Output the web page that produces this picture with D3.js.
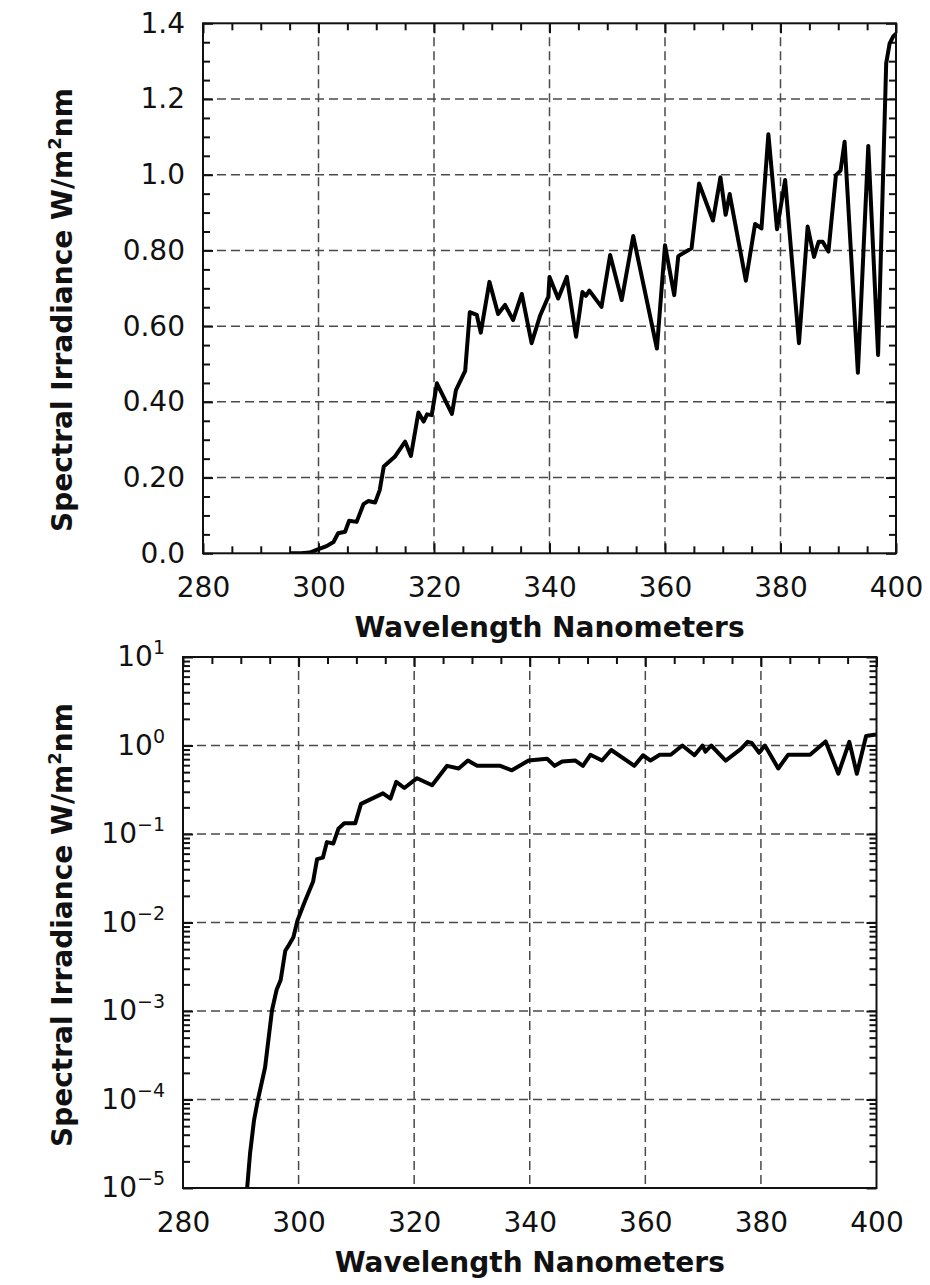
<!DOCTYPE html>
<html>
<head>
<meta charset="utf-8">
<script src="https://cdn.jsdelivr.net/npm/d3@7"></script>
<style>
body { margin: 0; background: #fff; }
svg { display: block; }
text { font-family: "DejaVu Sans", Verdana, sans-serif; fill: #111; }
</style>
</head>
<body>
<svg width="930" height="1285"></svg>
<script>
/* data */
var linWavelength = [295.0, 297.0, 298.5, 300.0, 301.4, 302.6, 303.4, 304.6, 305.3, 306.6, 307.8, 308.6, 309.8, 310.6, 311.3,
    313.2, 315.0, 316.0, 317.3, 318.2, 318.8, 319.6, 320.5, 323.1, 323.8, 325.4, 326.2, 327.4, 328.1, 329.6,
    331.1, 332.3, 333.7, 335.2, 336.9, 338.4, 339.8, 340.0, 341.5, 343.0, 344.6, 345.7, 346.3, 346.9, 349.0,
    350.5, 352.5, 354.5, 358.6, 360.0, 361.6, 362.3, 364.6, 365.9, 368.3, 369.6, 370.5, 371.2, 374.0, 375.6,
    376.7, 377.9, 379.4, 380.8, 383.2, 384.7, 385.8, 386.6, 387.3, 388.3, 389.6, 390.4, 391.1, 393.4, 395.2,
    396.9, 398.3, 398.9, 399.5, 400.0]
var linIrradiance = [0.000, 0.000, 0.002, 0.011, 0.019, 0.030, 0.053, 0.057, 0.086, 0.083, 0.130, 0.138, 0.134, 0.167, 0.229,
    0.255, 0.295, 0.257, 0.372, 0.348, 0.367, 0.365, 0.449, 0.368, 0.431, 0.482, 0.637, 0.630, 0.583, 0.717,
    0.632, 0.656, 0.616, 0.685, 0.555, 0.629, 0.678, 0.730, 0.673, 0.730, 0.572, 0.690, 0.680, 0.694, 0.651,
    0.788, 0.669, 0.838, 0.541, 0.814, 0.682, 0.785, 0.806, 0.977, 0.879, 0.993, 0.894, 0.949, 0.720, 0.870,
    0.858, 1.107, 0.856, 0.986, 0.555, 0.863, 0.783, 0.823, 0.823, 0.797, 0.999, 1.011, 1.087, 0.477, 1.076,
    0.524, 1.294, 1.347, 1.365, 1.373]

var logWavelength = [291.1, 291.6, 292.3, 293.0, 294.2, 295.4, 296.2, 296.9, 297.7, 298.2, 299.1, 299.8, 301.1, 302.5, 303.2,
    304.2, 304.9, 306.0, 306.9, 307.9, 309.8, 310.8, 314.6, 315.9, 316.9, 318.3, 320.5, 323.1, 325.7, 327.7,
    329.3, 330.9, 334.9, 336.9, 339.8, 343.0, 344.3, 345.6, 347.9, 349.2, 350.5, 352.5, 354.1, 358.1, 359.6,
    360.9, 362.5, 364.4, 366.4, 368.5, 369.9, 370.4, 371.4, 373.9, 376.5, 377.7, 378.4, 379.7, 380.7, 383.0,
    384.7, 388.5, 391.2, 393.4, 395.3, 396.6, 398.2, 399.6, 400.0]
var logIrradiance = [1.0e-5, 2.45e-5, 5.9e-5, 1.02e-4, 2.3e-4, 1.02e-3, 1.74e-3, 2.24e-3, 4.8e-3, 5.4e-3, 6.8e-3, 0.0105, 0.0174, 0.0288, 0.052,
    0.054, 0.081, 0.078, 0.115, 0.132, 0.132, 0.219, 0.288, 0.251, 0.389, 0.331, 0.427, 0.355, 0.589, 0.550,
    0.676, 0.589, 0.589, 0.525, 0.676, 0.708, 0.589, 0.660, 0.676, 0.589, 0.785, 0.676, 0.890, 0.589, 0.776,
    0.676, 0.785, 0.785, 1.00, 0.776, 1.00, 0.850, 1.00, 0.676, 0.910, 1.10, 1.07, 0.830, 1.00, 0.550,
    0.785, 0.785, 1.11, 0.480, 1.10, 0.480, 1.28, 1.32, 1.32]

var xTicks = [280, 300, 320, 340, 360, 380, 400]
var xLabels = ["280", "300", "320", "340", "360", "380", "400"]
var linTicks = [0, 0.2, 0.4, 0.6, 0.8, 1.0, 1.2, 1.4]
var linLabels = ["0.0", "0.20", "0.40", "0.60", "0.80", "1.0", "1.2", "1.4"]
var logExponents = [-5, -4, -3, -2, -1, 0, 1]

var xTitle = "Wavelength Nanometers"

/* layout */
var top_box = {left: 203, right: 896, top: 23.3, bottom: 553.3, ytitle_y: 310}
var bot_box = {left: 183, right: 876.5, top: 657, bottom: 1188, ytitle_y: 925}

var tick_font = 28
var title_font = 28
var minor_len = 7
var major_len = 10

var svg = d3.select("svg")

function make_x(box) {
    return d3.scaleLinear().domain([280, 400]).range([box.left, box.right])
}

/* dashed grid */
function draw_grid(g, box, x, y, xs, ys) {
    g.selectAll(".gx").data(xs).enter().append("line")
        .attr("x1", x).attr("x2", x)
        .attr("y1", box.top).attr("y2", box.bottom)
        .attr("stroke", "#4a4a4a").attr("stroke-width", 1.5)
        .attr("stroke-dasharray", "9,5")
    g.selectAll(".gy").data(ys).enter().append("line")
        .attr("y1", y).attr("y2", y)
        .attr("x1", box.left).attr("x2", box.right)
        .attr("stroke", "#4a4a4a").attr("stroke-width", 1.5)
        .attr("stroke-dasharray", "9,5")
}

/* inward ticks, no labels */
function tick_axis(g, axis, tx, ty) {
    var a = g.append("g").attr("transform", "translate(" + tx + "," + ty + ")").call(axis)
    a.select(".domain").remove()
    a.selectAll("text").remove()
    a.selectAll("line").attr("stroke", "#111").attr("stroke-width", 2)
    return a
}

function x_title(box) {
    svg.append("text")
        .attr("x", (box.left + box.right) / 2)
        .attr("y", box.bottom + 84)
        .attr("text-anchor", "middle")
        .attr("font-size", title_font)
        .attr("font-weight", "bold")
        .text(xTitle)
}

function y_title(box) {
    var t = svg.append("text")
        .attr("transform", "translate(72," + box.ytitle_y + ") rotate(-90)")
        .attr("text-anchor", "middle")
        .attr("font-size", title_font)
        .attr("font-weight", "bold")
    t.append("tspan").text("Spectral Irradiance W/m")
    t.append("tspan").attr("font-size", 18).attr("dy", -11).text("2")
    t.append("tspan").attr("dy", 11).text("nm")
}

function x_labels(box, x) {
    var a = svg.append("g").attr("transform", "translate(0," + box.bottom + ")")
        .call(d3.axisBottom(x).tickValues(xTicks).tickSize(0).tickPadding(24)
            .tickFormat(function(d, i) { return xLabels[i] }))
    a.select(".domain").remove()
    a.selectAll("text").attr("font-size", tick_font).attr("font-family", null).attr("fill", "#111")
}

function frame(g, box) {
    g.append("rect")
        .attr("x", box.left).attr("y", box.top)
        .attr("width", box.right - box.left).attr("height", box.bottom - box.top)
        .attr("fill", "none").attr("stroke", "#111").attr("stroke-width", 2)
}

function curve(g, box, x, y, xs, ys, id) {
    g.append("clipPath").attr("id", id).append("rect")
        .attr("x", box.left).attr("y", box.top)
        .attr("width", box.right - box.left).attr("height", box.bottom - box.top)
    var line = d3.line().x(function(d) { return x(d[0]) }).y(function(d) { return y(d[1]) })
    g.append("path")
        .datum(d3.zip(xs, ys))
        .attr("clip-path", "url(#" + id + ")")
        .attr("d", line)
        .attr("fill", "none")
        .attr("stroke", "#000")
        .attr("stroke-width", 4)
        .attr("stroke-linejoin", "round")
}

function minor_x() {
    var m = []
    for (var v = 285; v < 400; v += 5) { if (v % 20 != 0) m.push(v) }
    return m
}

/* ----- top panel, linear ----- */
function display_top() {
    var box = top_box
    var x = make_x(box)
    var y = d3.scaleLinear().domain([0, 1.4]).range([box.bottom, box.top])
    var g = svg.append("g").attr("class", "top")

    draw_grid(g, box, x, y, [300, 320, 340, 360, 380], [0.2, 0.4, 0.6, 0.8, 1.0, 1.2])

    var yminor = []
    for (var k = 1; k < 28; k++) { if (k % 4 != 0) yminor.push(k * 0.05) }
    var xm = minor_x()

    tick_axis(g, d3.axisBottom(x).tickValues(xm).tickSize(-minor_len), 0, box.bottom)
    tick_axis(g, d3.axisTop(x).tickValues(xm).tickSize(-minor_len), 0, box.top)
    tick_axis(g, d3.axisBottom(x).tickValues(xTicks).tickSize(-major_len), 0, box.bottom)
    tick_axis(g, d3.axisTop(x).tickValues(xTicks).tickSize(-major_len), 0, box.top)
    tick_axis(g, d3.axisLeft(y).tickValues(yminor).tickSize(-minor_len), box.left, 0)
    tick_axis(g, d3.axisRight(y).tickValues(yminor).tickSize(-minor_len), box.right, 0)
    tick_axis(g, d3.axisLeft(y).tickValues(linTicks).tickSize(-major_len), box.left, 0)
    tick_axis(g, d3.axisRight(y).tickValues(linTicks).tickSize(-major_len), box.right, 0)

    curve(g, box, x, y, linWavelength, linIrradiance, "clipTop")
    frame(g, box)

    var a = svg.append("g").attr("transform", "translate(" + box.left + ",0)")
        .call(d3.axisLeft(y).tickValues(linTicks).tickSize(0).tickPadding(18)
            .tickFormat(function(d, i) { return linLabels[i] }))
    a.select(".domain").remove()
    a.selectAll("text").attr("font-size", tick_font).attr("font-family", null).attr("fill", "#111")

    x_labels(box, x)
    x_title(box)
    y_title(box)
}

/* ----- bottom panel, log ----- */
function display_bottom() {
    var box = bot_box
    var x = make_x(box)
    var y = d3.scaleLog().domain([1e-5, 10]).range([box.bottom, box.top])
    var g = svg.append("g").attr("class", "bottom")
    var decades = logExponents.map(function(e) { return Math.pow(10, e) })

    draw_grid(g, box, x, y, [300, 320, 340, 360, 380], decades.slice(1, 6))

    var yminor = []
    logExponents.slice(0, 6).forEach(function(e) {
        for (var m = 2; m < 10; m++) yminor.push(m * Math.pow(10, e))
    })
    var xm = minor_x()

    tick_axis(g, d3.axisTop(x).tickValues(xm).tickSize(-minor_len), 0, box.top)
    tick_axis(g, d3.axisTop(x).tickValues(xTicks).tickSize(-major_len), 0, box.top)
    tick_axis(g, d3.axisLeft(y).tickValues(yminor).tickSize(-minor_len), box.left, 0)
    tick_axis(g, d3.axisRight(y).tickValues(yminor).tickSize(-minor_len), box.right, 0)
    tick_axis(g, d3.axisLeft(y).tickValues(decades).tickSize(-major_len), box.left, 0)
    tick_axis(g, d3.axisRight(y).tickValues(decades).tickSize(-major_len), box.right, 0)

    curve(g, box, x, y, logWavelength, logIrradiance, "clipBot")
    frame(g, box)

    var a = svg.append("g").attr("transform", "translate(" + box.left + ",0)")
        .call(d3.axisLeft(y).tickValues(decades).tickSize(0).tickPadding(18).tickFormat(""))
    a.select(".domain").remove()
    a.selectAll("text").each(function(d, i) {
        var t = d3.select(this).attr("font-size", tick_font).attr("font-family", null).attr("fill", "#111")
        var e = logExponents[i]
        t.append("tspan").text("10")
        t.append("tspan").attr("font-size", 19).attr("dy", -12)
            .text(e < 0 ? "\u2212" + (-e) : String(e))
    })

    x_labels(box, x)
    x_title(box)
    y_title(box)
}

display_top()
display_bottom()
</script>
</body>
</html>
